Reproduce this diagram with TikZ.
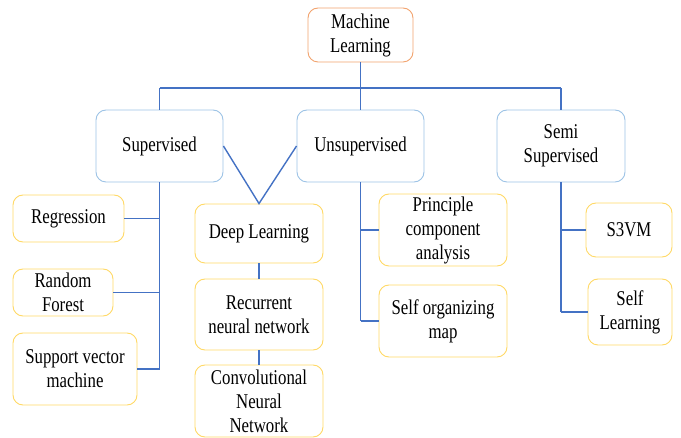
\documentclass[tikz,border=0pt]{standalone}
\usepackage{fontspec}
\setmainfont{Liberation Serif}[FakeStretch=0.8]
\usetikzlibrary{calc}

\definecolor{linkblue}{HTML}{4472C4}
\definecolor{rootorange}{HTML}{F2A36E}
\definecolor{typeblue}{HTML}{9DC3E6}
\definecolor{leafyellow}{HTML}{FFD966}

\tikzset{
  box/.style={draw, line width=0.9pt, rounded corners=10pt, fill=white,
    align=center, inner sep=0pt, font=\fontsize{21}{24}\selectfont},
  root/.style={box, draw=rootorange},
  kind/.style={box, draw=typeblue},
  leaf/.style={box, draw=leafyellow},
  link/.style={draw=linkblue, line width=1.4pt}
}

\begin{document}
\begin{tikzpicture}[x=1pt,y=-1pt]
    \useasboundingbox (0,0) rectangle (681,438);
    % top
    \node[root, minimum width=105pt, minimum height=54pt] (ml) at (360.5,35) {Machine\\Learning};
    \node[kind, minimum width=127pt, minimum height=72pt] (sup) at (159.5,146) {Supervised};
    \node[kind, minimum width=127pt, minimum height=72pt] (unsup) at (360.5,146) {Unsupervised};
    \node[kind, minimum width=128pt, minimum height=72pt] (semi) at (561,146) {Semi\\Supervised};
    % supervised
    \node[leaf, minimum width=111pt, minimum height=47pt] (reg) at (68.5,218.5) {Regression};
    \node[leaf, minimum width=100pt, minimum height=47pt] (rf) at (63,292.5) {Random\\Forest};
    \node[leaf, minimum width=124pt, minimum height=72pt] (svm) at (75,369) {Support vector\\machine};
    % deep learning
    \node[leaf, minimum width=128pt, minimum height=59pt] (dl) at (259,233.5) {Deep Learning};
    \node[leaf, minimum width=128pt, minimum height=71pt] (rnn) at (259,314.5) {Recurrent\\neural network};
    \node[leaf, minimum width=128pt, minimum height=72pt] (cnn) at (259,401) {Convolutional\\Neural\\Network};
    % unsupervised
    \node[leaf, minimum width=128pt, minimum height=72pt] (pca) at (443,230) {Principle\\component\\analysis};
    \node[leaf, minimum width=128pt, minimum height=72pt] (som) at (443,321) {Self organizing\\map};
    % semi supervised
    \node[leaf, minimum width=86pt, minimum height=54pt] (s3vm) at (629,230) {S3VM};
    \node[leaf, minimum width=84pt, minimum height=66pt] (sl) at (630,312) {Self\\Learning};

    \coordinate (bus) at (360.5,88);
    \draw[link] (ml.south) -- (unsup.north);
    \draw[link] (sup.north |- bus) -- (semi.north |- bus);
    \draw[link] (sup.north) -- (sup.north |- bus);
    \draw[link] (semi.north) -- (semi.north |- bus);

    \draw[link] (sup.south) -- (sup.south |- svm.east);
    \draw[link] (reg.east) -- (reg.east -| sup.south);
    \draw[link] (rf.east) -- (rf.east -| sup.south);
    \draw[link] (svm.east) -- (svm.east -| sup.south);

    \draw[link] (sup.east) -- (dl.north) -- (unsup.west);
    \draw[link] (dl.south) -- (rnn.north);
    \draw[link] (rnn.south) -- (cnn.north);

    \draw[link] (unsup.south) -- (unsup.south |- som.west);
    \draw[link] (pca.west) -- (pca.west -| unsup.south);
    \draw[link] (som.west) -- (som.west -| unsup.south);

    \draw[link] (semi.south) -- (semi.south |- sl.west);
    \draw[link] (s3vm.west) -- (s3vm.west -| semi.south);
    \draw[link] (sl.west) -- (sl.west -| semi.south);
  \end{tikzpicture}
\end{document}
